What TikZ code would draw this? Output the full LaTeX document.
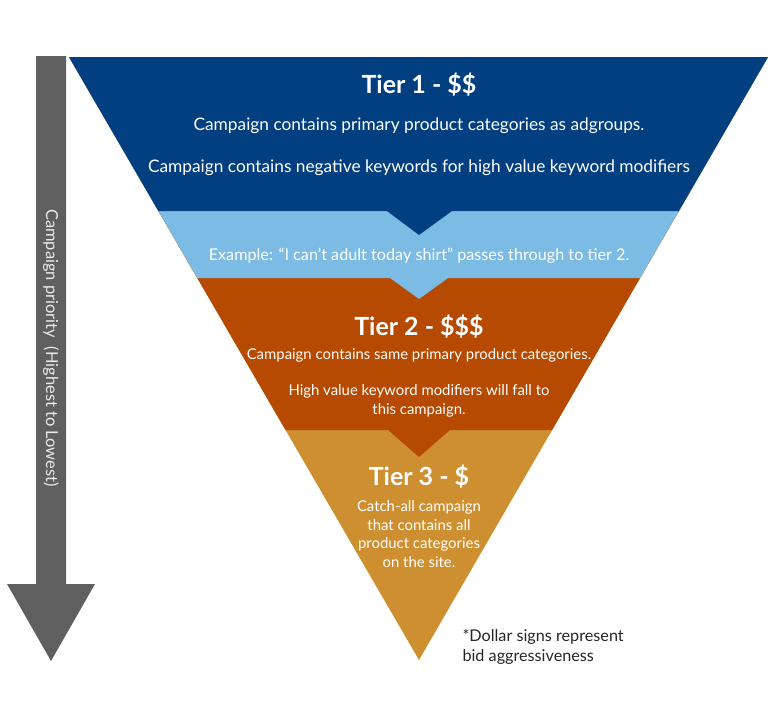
\documentclass[tikz,border=0pt]{standalone}
\usepackage{fontspec}
\setmainfont{Lato}
\usetikzlibrary{positioning}

\definecolor{tierone}{HTML}{023F80}
\definecolor{band}{HTML}{7BBBE4}
\definecolor{tiertwo}{HTML}{B54A00}
\definecolor{tierthree}{HTML}{CE8F31}
\definecolor{prio}{HTML}{5F5F5F}

\tikzset{
  title/.style={text=white,font=\fontsize{25}{29}\selectfont\bfseries},
  body/.style={text=white,font=\fontsize{14.9}{18.5}\selectfont,align=center},
  bigbody/.style={text=white,font=\fontsize{17.3}{20}\selectfont},
}

\begin{document}
\begin{tikzpicture}[x=1pt,y=-1pt]
\useasboundingbox (0,0) rectangle (780,721);
% priority arrow
\fill[prio] (36,56) -- (66,56) -- (66,584) -- (95,584) -- (51,661) -- (7,584) -- (36,584) -- cycle;
\node[rotate=-90,text=white!92!black,font=\fontsize{16.5}{18}\selectfont] (prio) at (51,348) {Campaign priority~~(Highest to Lowest)};
% funnel
\begin{scope}
  \clip (69,57) -- (768,57) -- (419,660) -- cycle;
  \fill[tierthree] (0,0) rectangle (780,721);
  \fill[tiertwo] (0,0) -- (780,0) -- (780,430) -- (450,430) -- (419,457) -- (388,430) -- (0,430) -- cycle;
  \fill[band] (0,0) -- (780,0) -- (780,278) -- (448,278) -- (419,299) -- (390,278) -- (0,278) -- cycle;
  \fill[tierone] (0,0) -- (780,0) -- (780,211) -- (452,211) -- (419,235) -- (387,211) -- (0,211) -- cycle;
\end{scope}
% tier 1
\node[title] (t1) at (419,85) {Tier 1 - \$\$};
\node[bigbody] (t1a) at (419,126) {Campaign contains primary product categories as adgroups.};
\node[bigbody] (t1b) at (419,168) {Campaign contains negative keywords for high value keyword modifiers};
\node[body,font=\fontsize{16.2}{19}\selectfont] (ex) at (419,256) {Example: “I can’t adult today shirt” passes through to tier 2.};
% tier 2
\node[title] (t2) at (419,327) {Tier 2 - \$\$\$};
\node[body] (t2a) at (419,355) {Campaign contains same primary product categories.};
\node[body] (t2b) at (419,401) {High value keyword modifiers will fall to\\this campaign.};
% tier 3
\node[title] (t3) at (419,477) {Tier 3 - \$};
\node[body] (t3a) at (419,534) {Catch-all campaign\\that contains all\\product categories\\on the site.};
% note
\node[anchor=west,align=left,text=black!85,font=\fontsize{16.2}{20}\selectfont] (note) at (459,647) {*Dollar signs represent\\bid aggressiveness};
\end{tikzpicture}
\end{document}
